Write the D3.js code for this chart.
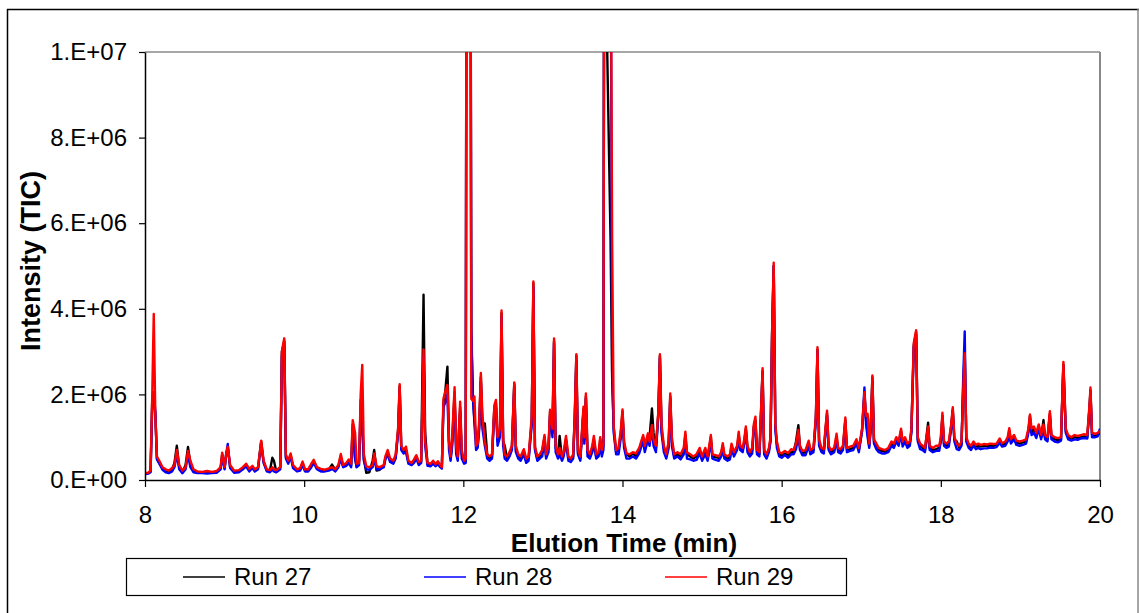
<!DOCTYPE html>
<html>
<head>
<meta charset="utf-8">
<script src="https://cdn.jsdelivr.net/npm/d3@7"></script>
<style>
  html, body { margin: 0; padding: 0; background: #fff; }
  svg { display: block; font-family: "Liberation Sans", Arial, sans-serif; }
</style>
</head>
<body>
<svg id="chart" width="1139" height="613"></svg>
<script>
// Elution time (min), shared by all three runs
const time = [
  8.00,8.04,8.07,8.09,8.11,8.13,8.15,8.18,8.22,8.26,8.30,8.34,8.37,8.40,8.43,8.47,8.51,8.54,8.57,8.61,8.66,8.72,8.78,8.84,8.90,8.95,8.97,
  9.00,9.02,9.04,9.07,9.12,9.18,9.23,9.27,9.31,9.35,9.38,9.42,9.44,9.46,9.49,9.53,9.57,9.60,9.62,9.65,9.70,9.72,9.75,9.77,9.80,9.83,9.86,9.91,9.95,9.98,
  10.01,10.05,10.09,10.12,10.16,10.21,10.26,10.31,10.35,10.39,10.43,10.46,10.49,10.53,10.56,10.59,10.61,10.64,10.66,10.69,10.71,10.73,10.75,10.78,10.82,10.86,10.88,10.91,10.95,
  11.00,11.02,11.05,11.08,11.12,11.15,11.18,11.20,11.22,11.25,11.28,11.31,11.35,11.38,11.41,11.44,11.47,11.50,11.52,11.55,11.59,11.62,11.65,11.68,11.71,11.73,11.75,11.77,11.80,11.82,11.84,11.86,11.89,11.91,11.93,11.96,11.98,
  12.01,12.03,12.04,12.09,12.10,12.12,12.14,12.16,12.18,12.20,12.22,12.24,12.27,12.30,12.33,12.36,12.39,12.41,12.43,12.46,12.48,12.50,12.52,12.55,12.58,12.61,12.64,12.66,12.69,12.72,12.76,12.79,12.82,12.86,12.88,12.90,12.93,12.96,12.99,
  13.02,13.04,13.07,13.09,13.12,13.14,13.16,13.19,13.21,13.24,13.26,13.29,13.32,13.35,13.38,13.40,13.42,13.44,13.47,13.51,13.52,13.54,13.56,13.59,13.62,13.64,13.67,13.70,13.72,13.74,13.76,13.77,13.85,13.87,13.89,13.92,13.95,13.98,
  14.00,14.02,14.05,14.09,14.13,14.17,14.21,14.24,14.26,14.28,14.32,14.34,14.37,14.39,14.42,14.45,14.47,14.49,14.52,14.55,14.58,14.60,14.62,14.65,14.69,14.73,14.77,14.79,14.81,14.85,14.89,14.93,14.97,
  15.00,15.04,15.07,15.11,15.13,15.17,15.21,15.24,15.26,15.28,15.32,15.35,15.37,15.40,15.44,15.46,15.48,15.51,15.53,15.55,15.57,15.60,15.63,15.65,15.67,15.69,15.72,15.74,15.76,15.78,15.81,15.84,15.86,15.88,15.90,15.92,15.94,15.97,
  16.00,16.04,16.08,16.12,16.15,16.18,16.21,16.23,16.26,16.30,16.34,16.36,16.40,16.43,16.45,16.47,16.50,16.53,16.55,16.57,16.59,16.62,16.66,16.69,16.71,16.74,16.77,16.80,16.82,16.86,16.90,16.94,16.97,
  17.01,17.04,17.06,17.08,17.10,17.12,17.14,17.16,17.19,17.22,17.26,17.30,17.34,17.38,17.41,17.44,17.47,17.50,17.52,17.55,17.58,17.61,17.63,17.66,17.69,17.71,17.74,17.77,17.80,17.84,17.86,17.90,17.94,17.98,
  18.00,18.02,18.04,18.07,18.10,18.13,18.15,18.17,18.20,18.23,18.26,18.28,18.30,18.32,18.35,18.38,18.41,18.44,18.47,18.50,18.54,18.58,18.62,18.66,18.70,18.74,18.77,18.81,18.84,18.86,18.88,18.92,18.95,18.99,
  19.03,19.07,19.10,19.12,19.14,19.17,19.20,19.23,19.26,19.29,19.31,19.34,19.37,19.39,19.43,19.47,19.51,19.53,19.54,19.57,19.60,19.64,19.68,19.72,19.76,19.80,19.84,19.87,19.88,19.90,19.94,19.97,20.00
];

// Total ion current, in millions of counts
const run27 = [
  0.15,0.16,0.2,1.8,2.0,1.5,0.5,0.4,0.27,0.2,0.19,0.25,0.4,0.8,0.3,0.18,0.35,0.77,0.4,0.2,0.18,0.18,0.19,0.18,0.19,0.28,0.6,
  0.28,0.6,0.75,0.3,0.2,0.21,0.28,0.35,0.24,0.3,0.23,0.28,0.6,0.9,0.43,0.23,0.22,0.52,0.45,0.2,0.3,3.0,3.25,0.55,0.42,0.58,0.32,0.23,0.25,0.4,
  0.23,0.24,0.35,0.45,0.28,0.24,0.22,0.25,0.36,0.24,0.33,0.55,0.32,0.37,0.45,0.34,1.3,0.5,0.3,0.45,1.6,1.2,0.5,0.17,0.18,0.45,0.7,0.22,0.24,
  0.33,0.5,0.65,0.45,0.4,0.55,1.15,2.2,0.75,0.66,0.7,0.42,0.38,0.44,0.55,0.4,0.43,4.33,1.1,0.37,0.35,0.42,0.35,0.4,0.32,0.28,1.8,2.0,2.65,0.9,0.5,0.9,2.05,0.7,0.5,1.7,0.6,
  0.42,0.45,14,14,3.4,1.9,1.4,1.0,0.8,1.3,2.4,1.3,1.32,0.6,0.5,0.55,1.7,1.8,0.9,1.1,3.9,0.9,0.8,0.5,0.6,0.75,2.25,0.7,0.55,0.5,0.68,0.45,0.5,1.4,4.6,0.75,0.5,0.55,0.65,
  1.0,0.55,0.75,1.6,1.1,3.25,0.75,0.6,1.03,0.5,0.6,0.95,0.5,0.48,0.55,1.45,2.9,0.65,0.5,1.65,0.95,1.95,0.65,0.55,0.75,0.95,0.55,0.6,0.95,0.6,0.8,14,5.6,2.4,1.2,0.65,0.7,1.1,
  1.6,0.85,0.6,0.55,0.62,0.55,0.7,0.88,1.0,0.75,1.05,1.0,1.67,1.1,0.75,1.55,2.9,1.2,0.75,0.55,0.85,1.95,0.9,0.55,0.6,0.55,0.7,1.05,0.6,0.55,0.5,0.55,0.7,
  0.5,0.7,0.5,1.0,0.55,0.53,0.52,0.6,0.8,0.55,0.5,0.52,0.8,0.6,0.75,1.05,0.75,0.7,0.9,1.2,0.75,0.6,0.7,1.25,1.4,0.65,0.6,1.55,2.55,0.65,0.55,0.7,0.95,3.45,5.0,1.25,0.85,0.6,
  0.58,0.62,0.58,0.65,0.65,0.9,1.28,0.78,0.62,0.65,0.88,0.65,0.7,1.45,3.05,0.9,0.7,0.68,1.15,1.55,0.75,0.65,0.7,1.0,0.7,0.68,0.75,1.4,0.7,0.72,0.75,0.9,0.7,
  1.15,2.0,1.4,1.1,0.8,1.25,2.4,0.9,0.8,0.7,0.68,0.66,0.7,0.85,0.8,0.95,0.85,1.15,0.85,0.95,0.8,0.85,1.15,3.15,3.45,0.95,0.8,0.75,0.7,1.34,0.75,0.7,0.72,0.75,
  0.95,1.5,0.85,0.8,0.85,1.25,1.65,0.95,0.9,0.75,0.85,2.1,3.0,0.95,0.8,0.75,0.85,0.78,0.8,0.78,0.8,0.8,0.8,0.8,0.82,0.92,0.82,0.85,0.95,1.15,0.9,1.0,0.88,0.85,
  0.88,0.9,1.15,1.5,1.1,1.2,1.05,1.25,1.0,1.4,1.0,0.95,1.55,1.0,0.95,0.93,0.95,2.15,2.7,1.15,1.0,0.96,1.0,0.98,1.0,1.02,1.0,1.75,2.1,1.05,1.03,1.05,1.1
];
const run28 = [
  0.14,0.15,0.18,1.7,2.05,1.6,0.48,0.38,0.24,0.18,0.16,0.2,0.3,0.6,0.25,0.16,0.25,0.6,0.3,0.18,0.16,0.16,0.15,0.16,0.17,0.25,0.55,
  0.25,0.6,0.84,0.28,0.17,0.18,0.25,0.32,0.2,0.28,0.2,0.25,0.55,0.85,0.4,0.2,0.18,0.25,0.2,0.18,0.25,2.9,3.2,0.5,0.38,0.55,0.28,0.2,0.22,0.35,
  0.2,0.2,0.3,0.4,0.25,0.2,0.2,0.22,0.26,0.2,0.3,0.5,0.3,0.33,0.4,0.3,1.2,0.5,0.3,0.35,1.87,1.4,0.45,0.25,0.24,0.3,0.5,0.25,0.25,
  0.3,0.48,0.6,0.42,0.38,0.5,1.1,2.1,0.7,0.62,0.65,0.38,0.35,0.4,0.5,0.35,0.4,2.9,0.8,0.33,0.32,0.38,0.32,0.37,0.3,0.27,1.7,1.8,2.0,0.7,0.45,0.8,1.9,0.6,0.45,1.6,0.5,
  0.38,0.4,14,14,3.55,2.0,1.3,0.7,0.75,1.2,2.3,1.2,0.8,0.5,0.45,0.5,1.6,1.7,0.8,1.0,3.8,0.8,0.5,0.45,0.55,0.7,2.2,0.65,0.5,0.45,0.6,0.4,0.45,1.3,4.5,0.7,0.45,0.5,0.55,
  0.9,0.5,0.65,1.5,1.0,3.2,0.65,0.5,0.6,0.45,0.55,0.9,0.45,0.42,0.5,1.4,2.8,0.6,0.45,1.6,0.85,1.9,0.55,0.5,0.65,0.85,0.5,0.55,0.85,0.55,0.7,14,14,2.5,1.1,0.6,0.6,1.0,
  1.5,0.75,0.5,0.5,0.55,0.5,0.62,0.8,0.9,0.65,0.95,0.8,1.2,0.8,0.65,1.5,2.85,1.1,0.65,0.5,0.75,1.9,0.8,0.5,0.55,0.48,0.6,1.0,0.5,0.48,0.45,0.47,0.62,
  0.45,0.6,0.45,0.9,0.5,0.47,0.45,0.55,0.75,0.5,0.45,0.48,0.75,0.55,0.7,1.0,0.7,0.65,0.85,1.15,0.65,0.55,0.62,1.2,1.35,0.6,0.55,1.5,2.5,0.6,0.5,0.65,0.9,3.4,5.0,1.2,0.75,0.55,
  0.52,0.58,0.52,0.6,0.6,0.72,1.05,0.7,0.58,0.58,0.8,0.6,0.65,1.4,3.0,0.8,0.65,0.62,1.1,1.5,0.7,0.6,0.65,0.95,0.65,0.62,0.7,1.35,0.65,0.68,0.7,0.85,0.65,
  1.15,2.16,1.3,1.0,0.75,1.2,2.3,0.85,0.72,0.65,0.62,0.62,0.65,0.8,0.75,0.9,0.8,1.1,0.78,0.9,0.75,0.8,1.1,3.1,3.4,0.9,0.72,0.7,0.65,1.15,0.7,0.65,0.68,0.68,
  0.9,1.45,0.8,0.75,0.78,1.2,1.6,0.9,0.72,0.7,0.8,2.3,3.47,0.9,0.75,0.7,0.8,0.72,0.75,0.72,0.74,0.74,0.76,0.75,0.77,0.87,0.78,0.8,0.9,1.1,0.85,0.95,0.82,0.8,
  0.82,0.85,1.1,1.42,1.05,1.1,0.98,1.2,0.95,1.2,0.95,0.9,1.5,0.95,0.9,0.88,0.92,2.1,2.65,1.1,0.95,0.92,0.95,0.94,0.97,0.98,0.97,1.7,2.05,1.0,1.0,1.02,1.2
];
const run29 = [
  0.16,0.17,0.22,1.9,3.88,1.5,0.55,0.45,0.3,0.25,0.22,0.28,0.35,0.7,0.35,0.22,0.3,0.68,0.45,0.25,0.2,0.19,0.21,0.19,0.21,0.3,0.64,
  0.3,0.6,0.78,0.35,0.22,0.23,0.3,0.38,0.26,0.33,0.25,0.3,0.6,0.92,0.45,0.25,0.23,0.3,0.25,0.23,0.3,3.0,3.31,0.6,0.45,0.62,0.35,0.25,0.28,0.43,
  0.25,0.25,0.38,0.47,0.3,0.26,0.24,0.27,0.3,0.25,0.35,0.61,0.35,0.4,0.48,0.38,1.4,1.1,0.38,0.4,2.0,2.69,0.6,0.32,0.3,0.35,0.62,0.32,0.3,
  0.35,0.55,0.7,0.5,0.45,0.6,1.2,2.24,0.8,0.7,0.78,0.45,0.4,0.48,0.58,0.42,0.45,3.05,0.9,0.4,0.38,0.45,0.37,0.44,0.35,0.3,1.9,2.05,2.22,0.9,0.55,1.0,2.17,0.8,0.55,1.83,0.7,
  0.45,0.5,14,14,1.9,1.85,1.95,0.8,0.85,1.4,2.5,1.5,0.9,0.6,0.55,0.6,1.75,1.87,1.0,1.2,3.96,1.0,0.6,0.55,0.65,0.8,2.28,0.8,0.6,0.55,0.72,0.5,0.55,1.5,4.64,0.78,0.55,0.6,0.7,
  1.05,0.6,0.8,1.64,1.2,3.31,0.8,0.6,0.75,0.55,0.65,1.03,0.55,0.5,0.6,1.5,2.94,0.7,0.55,1.71,1.0,2.02,0.7,0.6,0.8,1.03,0.6,0.65,1.0,0.7,0.85,14,14,5.5,1.25,0.7,0.75,1.2,
  1.65,0.9,0.62,0.6,0.65,0.62,0.75,0.93,1.05,0.8,1.09,0.9,1.28,0.95,0.8,1.6,2.94,1.3,0.8,0.6,0.9,2.02,1.0,0.6,0.65,0.6,0.75,1.13,0.65,0.6,0.55,0.6,0.75,
  0.55,0.75,0.55,1.05,0.6,0.58,0.55,0.65,0.86,0.6,0.55,0.6,0.85,0.65,0.8,1.13,0.8,0.75,0.95,1.25,0.8,0.65,0.75,1.3,1.48,0.7,0.65,1.6,2.61,0.7,0.6,0.75,1.0,3.5,5.08,1.32,0.9,0.65,
  0.62,0.68,0.63,0.72,0.7,0.85,1.17,0.8,0.68,0.7,0.92,0.7,0.75,1.5,3.1,0.95,0.75,0.72,1.2,1.62,0.8,0.7,0.75,1.08,0.75,0.72,0.8,1.46,0.75,0.78,0.8,0.95,0.75,
  1.2,2.05,1.5,1.55,0.85,1.3,2.44,0.95,0.85,0.75,0.72,0.7,0.75,0.9,0.85,1.0,0.9,1.2,0.9,1.0,0.85,0.9,1.2,3.2,3.5,1.0,0.85,0.8,0.75,1.25,0.8,0.75,0.8,0.8,
  1.0,1.57,0.9,0.85,0.9,1.3,1.7,1.0,0.85,0.8,0.9,2.0,2.96,1.0,0.85,0.8,0.9,0.82,0.85,0.82,0.84,0.83,0.85,0.84,0.85,0.97,0.86,0.9,1.0,1.21,0.95,1.05,0.92,0.9,
  0.92,0.95,1.2,1.53,1.2,1.25,1.1,1.3,1.05,1.3,1.05,1.0,1.61,1.05,1.0,0.98,1.0,2.2,2.76,1.2,1.05,1.0,1.05,1.03,1.05,1.07,1.05,1.8,2.16,1.1,1.08,1.1,1.15
];

const seriesNames = ["Run 27", "Run 28", "Run 29"];
const seriesColors = ["#000000", "#0000ff", "#ff0000"];
const xTicks = [8, 10, 12, 14, 16, 18, 20];
const yTicks = [0, 2, 4, 6, 8, 10];   // millions
const UNIT = 1e6;

const svg = d3.select("#chart");
const plot = { left: 145, right: 1100, top: 52, bottom: 480 };

const x = d3.scaleLinear().domain([8, 20]).range([plot.left, plot.right]);
const y = d3.scaleLinear().domain([0, 10]).range([plot.bottom, plot.top]);

// Excel-style scientific labels, e.g. 1.E+07
function sci(v) {
  const n = v * UNIT;
  if (n === 0) return "0.E+00";
  const e = Math.floor(Math.log10(n));
  const m = Math.round(n / Math.pow(10, e));
  return m + ".E+" + String(e).padStart(2, "0");
}

// outer chart frame
svg.append("line").attr("x1", 7).attr("x2", 1139).attr("y1", 9.5).attr("y2", 9.5)
  .attr("stroke", "#000").attr("stroke-width", 1.5);
svg.append("line").attr("x1", 7.5).attr("x2", 7.5).attr("y1", 9).attr("y2", 613)
  .attr("stroke", "#000").attr("stroke-width", 1.5);
svg.append("line").attr("x1", 1138).attr("x2", 1138).attr("y1", 9).attr("y2", 613)
  .attr("stroke", "#888").attr("stroke-width", 1.5);

// plot-area border (top and right)
svg.append("line").attr("x1", plot.left).attr("x2", plot.right).attr("y1", plot.top).attr("y2", plot.top)
  .attr("stroke", "#888").attr("stroke-width", 1.5);
svg.append("line").attr("x1", plot.right).attr("x2", plot.right).attr("y1", plot.top).attr("y2", plot.bottom)
  .attr("stroke", "#888").attr("stroke-width", 2);

svg.append("clipPath").attr("id", "plotClip").append("rect")
  .attr("x", plot.left).attr("y", plot.top)
  .attr("width", plot.right - plot.left).attr("height", plot.bottom - plot.top);

const runs = [run27, run28, run29];
const line = d3.line()
  .x((d, i) => x(time[i]))
  .y(d => y(d));

const lines = svg.append("g").attr("clip-path", "url(#plotClip)");
runs.forEach((vals, k) => {
  lines.append("path")
    .datum(vals)
    .attr("fill", "none")
    .attr("stroke", seriesColors[k])
    .attr("stroke-width", 2.4)
    .attr("stroke-linejoin", "round")
    .attr("d", line);
});

// axes
const xAxis = svg.append("g")
  .attr("transform", `translate(0,${plot.bottom})`)
  .call(d3.axisBottom(x).tickValues(xTicks).tickSize(7).tickSizeOuter(0).tickPadding(19).tickFormat(d3.format("d")));
const yAxis = svg.append("g")
  .attr("transform", `translate(${plot.left},0)`)
  .call(d3.axisLeft(y).tickValues(yTicks).tickSize(6).tickSizeOuter(0).tickPadding(12).tickFormat(sci));

[xAxis, yAxis].forEach(g => {
  g.selectAll("path.domain").attr("stroke", "#000").attr("stroke-width", 1.5);
  g.selectAll(".tick line").attr("stroke", "#000").attr("stroke-width", 1.2);
  g.selectAll(".tick text")
    .attr("fill", "#000")
    .style("font-family", '"Liberation Sans", Arial, sans-serif')
    .style("font-size", "24px");
});

// axis titles
svg.append("text")
  .attr("x", 624).attr("y", 552)
  .attr("text-anchor", "middle")
  .style("font-size", "26px").style("font-weight", "bold")
  .text("Elution Time (min)");

svg.append("text")
  .attr("transform", "translate(40,261) rotate(-90)")
  .attr("text-anchor", "middle")
  .style("font-size", "27px").style("font-weight", "bold")
  .text("Intensity (TIC)");

// legend
const legend = svg.append("g");
legend.append("rect")
  .attr("x", 126.5).attr("y", 558.5).attr("width", 720).attr("height", 37)
  .attr("fill", "#fff").attr("stroke", "#000").attr("stroke-width", 1.2);
const legendX = [183, 424, 665];
seriesNames.forEach((name, k) => {
  legend.append("line")
    .attr("x1", legendX[k]).attr("x2", legendX[k] + 42)
    .attr("y1", 577).attr("y2", 577)
    .attr("stroke", seriesColors[k]).attr("stroke-width", 1.5);
  legend.append("text")
    .attr("x", legendX[k] + 51).attr("y", 585)
    .style("font-size", "24px")
    .text(name);
});
</script>
</body>
</html>
